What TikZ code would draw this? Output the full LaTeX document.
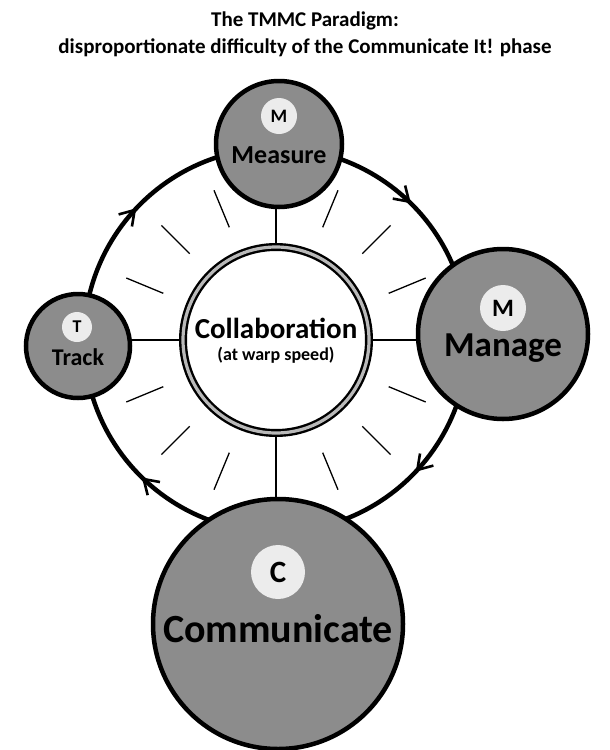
\documentclass[tikz,border=0pt]{standalone}
\usepackage{fontspec}
\setmainfont{Carlito}
\usetikzlibrary{calc}
\begin{document}
\begin{tikzpicture}[x=1pt,y=-1pt,
  big/.style={circle,draw=black,line width=4.5pt,fill=cg,inner sep=0pt},
  badge/.style={circle,fill=gray!15,inner sep=0pt,font=\bfseries},
  lbl/.style={font=\bfseries,inner sep=0pt}]
\definecolor{cg}{gray}{0.55}
\useasboundingbox (0,0) rectangle (610,750);
\node[lbl,font=\bfseries\fontsize{21}{27}\selectfont,align=center] (title) at (305,34) {The TMMC Paradigm:\\disproportionate difficulty of the Communicate It! phase};
\coordinate (c) at (276,340);
% ring
\draw[line width=4.5pt] (c) circle (192);
\foreach \t in {46.7,-42,-133,138}
  \draw[line width=2.6pt,line join=miter]
    ($(c)+({201*cos(\t)-12*sin(\t)},{-201*sin(\t)-12*cos(\t)})$) --
    ($(c)+({192*cos(\t)+2*sin(\t)},{-192*sin(\t)+2*cos(\t)})$) --
    ($(c)+({183*cos(\t)-12*sin(\t)},{-183*sin(\t)-12*cos(\t)})$);
% spokes
\foreach \a in {0,90,180,270} \draw[line width=2.6pt] ($(c)+(\a:93)$) -- ($(c)+(\a:192)$);
% ticks
\foreach \a in {22.5,45,67.5,112.5,135,157.5,202.5,225,247.5,292.5,315,337.5}
  \draw[line width=1.3pt] ($(c)+(\a:122)$) -- ($(c)+(\a:162)$);
% inner
\node[circle,minimum size=186pt,draw=black,line width=8pt,fill=white,inner sep=0pt] (collab) at (c) {};
\draw[line width=3.2pt,gray!55] (c) circle (93);
\node[lbl,font=\bfseries\fontsize{29}{30}\selectfont] (ct) at (276,328) {Collaboration};
\node[lbl,font=\bfseries\fontsize{18}{20}\selectfont] (cw) at (276,355) {(at warp speed)};
% outer circles
\node[big,minimum size=126pt] (meas) at (279,144) {};
\node[badge,minimum size=36pt,font=\bfseries\fontsize{19}{21}\selectfont] (mb) at (279,116) {M};
\node[lbl,font=\bfseries\fontsize{26}{28}\selectfont] (mt) at (279,155) {Measure};
\node[big,minimum size=170pt] (man) at (503,334) {};
\node[badge,minimum size=46pt,font=\bfseries\fontsize{25}{28}\selectfont] (manb) at (503,308) {M};
\node[lbl,font=\bfseries\fontsize{35}{36}\selectfont] (mant) at (503,348) {Manage};
\node[big,minimum size=104pt] (tr) at (78,346) {};
\node[badge,minimum size=30pt,font=\bfseries\fontsize{18}{20}\selectfont] (trb) at (77,327) {T};
\node[lbl,font=\bfseries\fontsize{24}{26}\selectfont] (trt) at (78,357) {Track};
\node[big,minimum size=250pt] (com) at (278,624) {};
\node[badge,minimum size=54pt,font=\bfseries\fontsize{31}{34}\selectfont] (comb) at (278,572) {C};
\node[lbl,font=\bfseries\fontsize{40}{44}\selectfont] (comt) at (278,629) {Communicate};
\end{tikzpicture}
\end{document}
